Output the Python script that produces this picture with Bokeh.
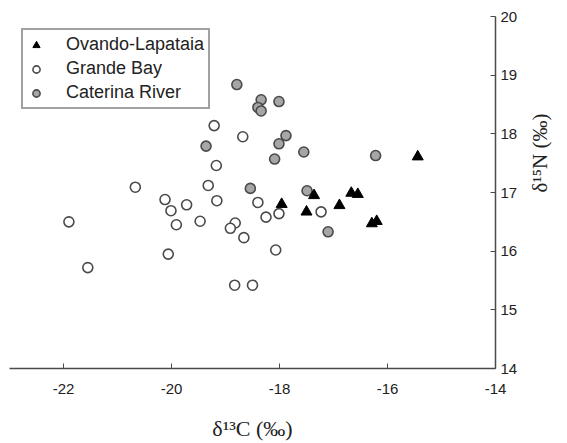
import math
from bokeh.plotting import figure
from bokeh.models import LinearAxis, Range1d, FixedTicker, Legend, LegendItem
from bokeh.embed import file_html
from bokeh.resources import INLINE

# Ovando-Lapataia (black triangles)
ol_c = [-17.96, -17.36, -17.50, -16.89, -16.67, -16.55, -16.29, -16.20, -15.44]
ol_n = [16.80, 16.95, 16.67, 16.78, 16.99, 16.97, 16.47, 16.51, 17.61]

# Grande Bay (open circles)
gb_c = [-19.21, -18.68, -19.17, -19.32, -19.16, -18.40, -19.47, -18.82, -18.91,
        -18.66, -18.25, -18.01, -17.23, -18.07, -18.83, -18.50,
        -20.67, -20.12, -19.72, -20.01, -19.91, -21.90, -20.06, -21.55]
gb_n = [18.14, 17.95, 17.46, 17.12, 16.86, 16.83, 16.51, 16.48, 16.39,
        16.23, 16.58, 16.64, 16.67, 16.02, 15.42, 15.42,
        17.09, 16.88, 16.79, 16.69, 16.45, 16.50, 15.95, 15.72]

# Caterina River (grey circles)
cr_c = [-18.79, -18.34, -18.40, -18.34, -18.01, -17.88, -18.01, -18.09, -17.55,
        -16.22, -19.36, -18.54, -17.49, -17.10]
cr_n = [18.84, 18.58, 18.45, 18.39, 18.55, 17.97, 17.83, 17.57, 17.69,
        17.63, 17.79, 17.07, 17.03, 16.33]

x_ticks = [-22, -20, -18, -16, -14]
x_tick_labels = ["-22", "-20", "-18", "-16", "-14"]
y_ticks = [14, 15, 16, 17, 18, 19, 20]
y_tick_labels = ["14", "15", "16", "17", "18", "19", "20"]

p = figure(width=567, height=443, output_backend="svg", toolbar_location=None,
           x_range=Range1d(-23, -14), y_range=Range1d(14, 20),
           x_axis_location=None, y_axis_location=None,
           min_border_left=9, min_border_right=67, min_border_top=16, min_border_bottom=73)
p.outline_line_color = None
p.xgrid.visible = False
p.ygrid.visible = False
p.background_fill_color = "white"
p.border_fill_color = "white"

axis_col = "#4a4a4a"
xa = LinearAxis(ticker=FixedTicker(ticks=x_ticks), axis_label="δ¹³C (‰)",
                major_label_overrides=dict(zip(x_ticks, x_tick_labels)))
ya = LinearAxis(ticker=FixedTicker(ticks=y_ticks), axis_label="δ¹⁵N (‰)",
                major_label_overrides=dict(zip(y_ticks, y_tick_labels)))
for ax in (xa, ya):
    ax.axis_line_color = axis_col
    ax.axis_line_width = 1.5
    ax.major_tick_line_color = axis_col
    ax.major_tick_in = 5
    ax.major_tick_out = 0
    ax.minor_tick_line_color = None
    ax.major_label_text_font = "Liberation Sans"
    ax.major_label_text_font_size = "15px"
    ax.major_label_text_color = "#222222"
    ax.axis_label_text_font = "Liberation Serif"
    ax.axis_label_text_font_style = "normal"
    ax.axis_label_text_color = "#222222"
xa.axis_label_text_font_size = "22px"
ya.axis_label_text_font_size = "21px"
xa.major_label_standoff = 15
xa.axis_label_standoff = 19
ya.major_label_standoff = 5
ya.axis_label_standoff = 20
ya.axis_label_orientation = math.pi / 2
p.add_layout(xa, "below")
p.add_layout(ya, "right")

r_gb = p.scatter(gb_c, gb_n, marker="circle", size=10, fill_color="white",
                 line_color="#4a4a4a", line_width=1.6)
r_cr = p.scatter(cr_c, cr_n, marker="circle", size=10, fill_color="#a6a6a6",
                 line_color="#4a4a4a", line_width=1.6)
r_ol = p.scatter(ol_c, ol_n, marker="triangle", size=11, fill_color="black",
                 line_color="black", line_width=1)

legend = Legend(items=[LegendItem(label="Ovando-Lapataia", renderers=[r_ol]),
                       LegendItem(label="Grande Bay", renderers=[r_gb]),
                       LegendItem(label="Caterina River", renderers=[r_cr])],
                location="top_left")
legend.margin = 12
legend.padding = 4
legend.spacing = 3
legend.glyph_width = 18
legend.glyph_height = 20
legend.label_standoff = 21
legend.label_text_font = "Liberation Sans"
legend.label_text_font_size = "18px"
legend.label_text_color = "#222222"
legend.border_line_color = "#444444"
legend.border_line_width = 2
legend.background_fill_alpha = 1
p.add_layout(legend)

open("out.html", "w").write(file_html(p, INLINE))
